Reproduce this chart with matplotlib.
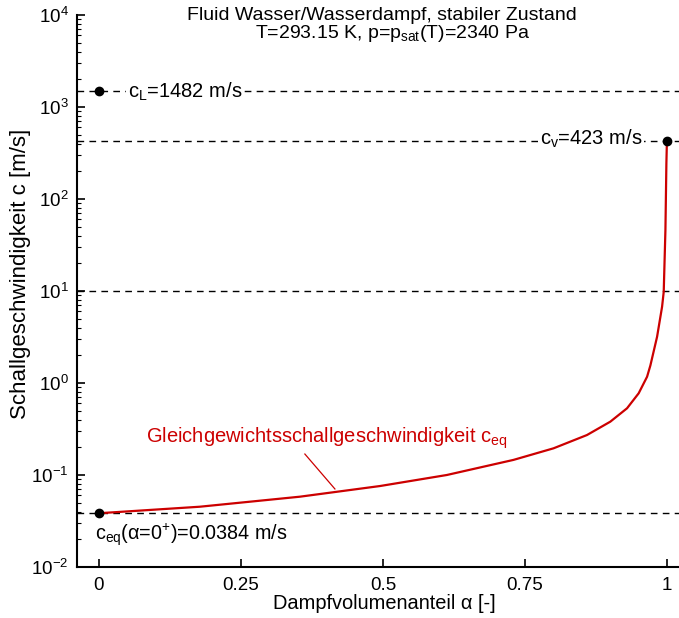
import matplotlib
matplotlib.use("Agg")
import matplotlib.pyplot as plt
import numpy as np

plt.rcParams['font.family'] = ['Liberation Sans', 'DejaVu Sans']
plt.rcParams['mathtext.fontset'] = 'custom'
plt.rcParams['mathtext.rm'] = 'Liberation Sans'
plt.rcParams['mathtext.it'] = 'Liberation Sans'
plt.rcParams['mathtext.default'] = 'regular'
plt.rcParams['axes.unicode_minus'] = False

# data
alpha = [0.0, 0.1775, 0.3538, 0.495, 0.6125, 0.73, 0.8004, 0.8593, 0.9004,
         0.9298, 0.9503, 0.9651, 0.9709, 0.9827, 0.9915, 0.9944, 0.9974,
         0.9991, 1.0]
c_eq = [0.0384, 0.0452, 0.0581, 0.0759, 0.100, 0.146, 0.195, 0.272, 0.380,
        0.531, 0.773, 1.17, 1.55, 3.18, 6.74, 9.8, 46.0, 245.0, 423.0]
c_L = 1482.0
c_v = 423.0
c_eq0 = 0.0384
ref_line = 10.0
xticks = [0, 0.25, 0.5, 0.75, 1]
xtick_labels = ['0', '0.25', '0.5', '0.75', '1']

W, H = 679, 618
fig = plt.figure(figsize=(W / 100, H / 100), dpi=100)
ax = fig.add_axes([77 / W, (H - 567) / H, (W - 77) / W, (567 - 15) / H])

red = '#cc0000'
dash = (4.8, 3.8)
for yv in [c_L, c_v, ref_line, c_eq0]:
    ax.axhline(yv, color='black', lw=1.0, dashes=dash, zorder=1)

ax.plot(alpha, c_eq, color=red, lw=1.6, zorder=3)
ax.plot([0, 1, 0], [c_L, c_v, c_eq0], 'o', color='black', ms=6, zorder=4)

ax.set_yscale('log')
ax.set_ylim(1e-2, 1e4)
ax.set_xlim(-0.0386, 1.0213)
ax.set_xticks(xticks)
ax.set_xticklabels(xtick_labels)

for s in ['top', 'right']:
    ax.spines[s].set_visible(False)
for s in ['left', 'bottom']:
    ax.spines[s].set_linewidth(1.5)

ax.tick_params(axis='both', which='major', direction='in', length=6, width=1.2,
               labelsize=13.5)
ax.tick_params(axis='y', which='minor', direction='in', length=3, width=0.8)
ax.tick_params(axis='x', which='both', pad=7)
ax.tick_params(axis='y', which='both', pad=6)
ax.yaxis.set_minor_locator(matplotlib.ticker.LogLocator(base=10, subs=np.arange(2, 10), numticks=20))
ax.yaxis.set_minor_formatter(matplotlib.ticker.NullFormatter())

ax.set_xlabel('Dampfvolumenanteil α [-]', fontsize=14.4)
ax.xaxis.set_label_coords((384 - 77) / 602, -0.049)
ax.set_ylabel('Schallgeschwindigkeit c [m/s]', fontsize=16)
ax.yaxis.set_label_coords(-0.076, 0.531)

bb = dict(facecolor='white', edgecolor='none', pad=1.5)
ax.text(0.0506, 1268, 'c$_{L}$=1482 m/s', fontsize=14.5, ha='left', va='baseline', bbox=bb, zorder=2)
ax.text(0.957, 386, 'c$_{v}$=423 m/s', fontsize=14.5, ha='right', va='baseline', bbox=bb, zorder=2)
ax.text(-0.0076, 0.0196, 'c$_{eq}$(α=0$^{+}$)=0.0384 m/s', fontsize=14.2, ha='left', va='baseline', zorder=2)

ax.text(0.0822, 0.223, 'Gleichgewichtsschallgeschwindigkeit c$_{eq}$', fontsize=14.5,
        color=red, ha='left', va='baseline')
ax.plot([0.3626, 0.4155], [0.169, 0.0705], color=red, lw=0.9)

fig.text(382 / W, 1 - 20 / H, 'Fluid Wasser/Wasserdampf, stabiler Zustand',
         fontsize=14, ha='center', va='baseline')
fig.text(393 / W, 1 - 38 / H, 'T=293.15 K, p=p$_{sat}$(T)=2340 Pa',
         fontsize=14, ha='center', va='baseline')

fig.savefig('out.png', dpi=100)
